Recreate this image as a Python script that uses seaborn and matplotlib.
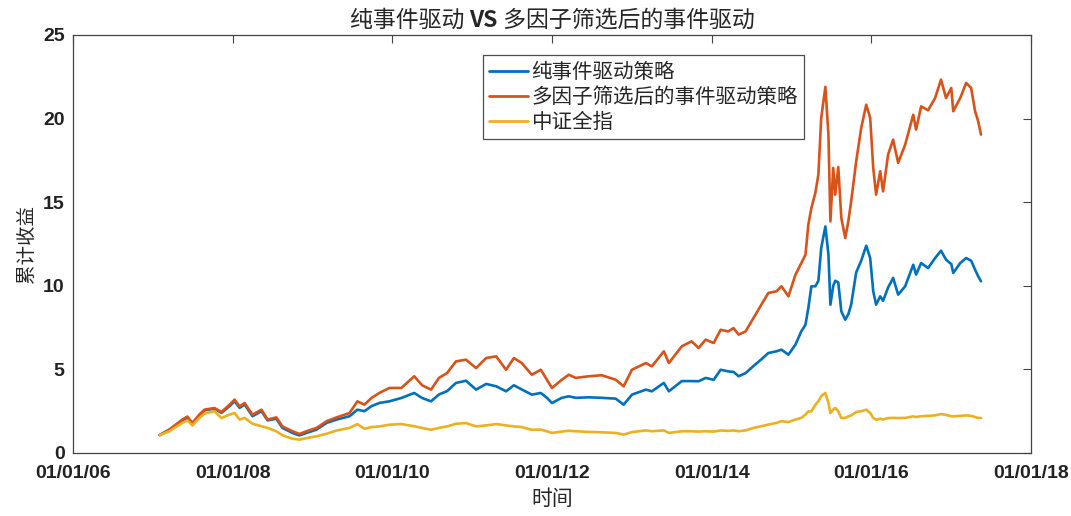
import pandas as pd
import numpy as np
import seaborn as sns
import matplotlib.pyplot as plt
import matplotlib.dates as mdates

# Values (cumulative return)
dates = [
    '2007-02-01', '2007-03-18', '2007-05-16', '2007-06-08', '2007-07-01', '2007-08-02', '2007-08-25',
    '2007-10-10', '2007-11-11', '2007-12-18', '2008-01-10', '2008-02-02', '2008-02-25', '2008-04-01',
    '2008-05-12', '2008-06-09', '2008-07-19', '2008-08-16', '2008-10-01', '2008-11-02', '2008-12-04',
    '2009-01-19', '2009-03-06', '2009-04-21', '2009-06-19', '2009-07-25', '2009-08-26', '2009-09-27',
    '2009-11-02', '2009-12-18', '2010-02-11', '2010-04-11', '2010-05-17', '2010-06-27', '2010-08-02',
    '2010-09-08', '2010-10-19', '2010-12-04', '2011-01-19', '2011-03-06', '2011-04-21', '2011-06-05',
    '2011-07-11', '2011-08-16', '2011-10-01', '2011-11-11', '2011-12-09', '2012-01-01', '2012-02-15',
    '2012-03-18', '2012-04-19', '2012-06-18', '2012-08-16', '2012-10-19', '2012-11-24', '2013-01-01',
    '2013-03-06', '2013-04-02', '2013-05-27', '2013-06-19', '2013-08-17', '2013-10-01', '2013-11-02',
    '2013-12-04', '2014-01-10', '2014-02-11', '2014-03-18', '2014-04-11', '2014-05-04', '2014-06-05',
    '2014-07-11', '2014-08-16', '2014-09-17', '2014-10-24', '2014-11-16', '2014-12-18', '2015-01-19',
    '2015-02-15', '2015-03-06', '2015-03-19', '2015-04-02', '2015-04-20', '2015-05-04', '2015-05-17',
    '2015-06-05', '2015-06-19', '2015-06-28', '2015-07-11', '2015-07-20', '2015-08-03', '2015-08-17',
    '2015-09-04', '2015-09-18', '2015-10-01', '2015-10-24', '2015-11-16', '2015-12-09', '2015-12-27',
    '2016-01-10', '2016-01-23', '2016-02-11', '2016-02-24', '2016-03-18', '2016-04-10', '2016-05-03',
    '2016-06-04', '2016-07-11', '2016-07-24', '2016-08-16', '2016-09-17', '2016-10-19', '2016-11-15',
    '2016-12-08', '2017-01-01', '2017-01-10', '2017-02-11', '2017-03-10', '2017-04-02', '2017-04-20',
    '2017-05-04', '2017-05-17',
]

pure_event = [
    1.07, 1.40, 1.95, 2.10, 1.75, 2.25, 2.55,
    2.65, 2.40, 2.80, 3.10, 2.70, 2.90, 2.20,
    2.50, 1.95, 2.05, 1.50, 1.20, 1.05, 1.20,
    1.40, 1.80, 2.00, 2.20, 2.59, 2.50, 2.80,
    2.99, 3.09, 3.29, 3.59, 3.29, 3.09, 3.50,
    3.70, 4.19, 4.32, 3.79, 4.13, 3.99, 3.69,
    4.05, 3.80, 3.49, 3.59, 3.30, 2.99, 3.30,
    3.39, 3.30, 3.33, 3.30, 3.25, 2.89, 3.49,
    3.79, 3.69, 4.19, 3.69, 4.30, 4.30, 4.29,
    4.49, 4.38, 4.98, 4.88, 4.85, 4.59, 4.78,
    5.20, 5.60, 5.98, 6.08, 6.18, 5.88, 6.48,
    7.28, 7.67, 8.67, 9.97, 9.97, 10.30, 12.26,
    13.55, 11.86, 8.87, 10.00, 10.30, 10.20, 8.47,
    7.97, 8.30, 8.87, 10.80, 11.50, 12.40, 11.66,
    9.67, 8.87, 9.37, 9.10, 9.90, 10.47, 9.47,
    9.97, 11.26, 10.67, 11.36, 11.06, 11.66, 12.10,
    11.56, 11.30, 10.77, 11.36, 11.66, 11.50, 10.96,
    10.57, 10.27,
]

multi_factor = [
    1.07, 1.40, 2.00, 2.18, 1.79, 2.30, 2.59,
    2.69, 2.45, 2.89, 3.19, 2.79, 2.99, 2.29,
    2.59, 2.00, 2.13, 1.59, 1.30, 1.14, 1.30,
    1.50, 1.90, 2.13, 2.39, 3.09, 2.89, 3.29,
    3.59, 3.89, 3.89, 4.59, 4.05, 3.79, 4.49,
    4.78, 5.48, 5.58, 5.08, 5.68, 5.78, 4.98,
    5.68, 5.38, 4.68, 4.98, 4.38, 3.89, 4.38,
    4.68, 4.49, 4.59, 4.65, 4.38, 3.99, 4.98,
    5.38, 5.18, 6.08, 5.38, 6.38, 6.68, 6.28,
    6.78, 6.58, 7.37, 7.27, 7.47, 7.08, 7.27,
    8.07, 8.87, 9.57, 9.67, 9.97, 9.37, 10.66,
    11.36, 11.86, 13.65, 14.65, 15.55, 16.65, 20.04,
    21.90, 19.04, 13.85, 17.05, 15.45, 17.10, 14.05,
    12.86, 13.85, 15.05, 17.44, 19.44, 20.83, 20.04,
    17.05, 15.45, 16.85, 15.65, 17.85, 18.74, 17.35,
    18.44, 20.23, 19.34, 20.73, 20.50, 21.23, 22.33,
    21.23, 21.83, 20.44, 21.23, 22.13, 21.83, 20.44,
    19.84, 19.04,
]

csi_all = [
    1.07, 1.30, 1.80, 1.95, 1.65, 2.10, 2.35,
    2.50, 2.09, 2.30, 2.39, 2.00, 2.10, 1.75,
    1.60, 1.50, 1.30, 1.06, 0.85, 0.80, 0.89,
    1.00, 1.15, 1.35, 1.50, 1.73, 1.45, 1.55,
    1.59, 1.69, 1.73, 1.60, 1.50, 1.39, 1.50,
    1.59, 1.75, 1.79, 1.59, 1.65, 1.73, 1.65,
    1.59, 1.55, 1.39, 1.40, 1.30, 1.20, 1.28,
    1.33, 1.30, 1.26, 1.24, 1.20, 1.10, 1.25,
    1.35, 1.30, 1.35, 1.20, 1.30, 1.30, 1.28,
    1.30, 1.28, 1.35, 1.32, 1.35, 1.30, 1.35,
    1.50, 1.60, 1.70, 1.80, 1.90, 1.85, 2.00,
    2.10, 2.30, 2.49, 2.49, 2.89, 3.09, 3.40,
    3.59, 3.00, 2.39, 2.60, 2.69, 2.50, 2.09,
    2.10, 2.19, 2.25, 2.45, 2.50, 2.59, 2.40,
    2.10, 1.99, 2.05, 2.00, 2.09, 2.10, 2.09,
    2.10, 2.19, 2.15, 2.20, 2.22, 2.25, 2.33,
    2.28, 2.20, 2.19, 2.22, 2.25, 2.22, 2.15,
    2.10, 2.09,
]

series_names = ['纯事件驱动策略', '多因子筛选后的事件驱动策略', '中证全指']
colors = ['#0072BD', '#D95319', '#EDB120']

df = pd.DataFrame({
    'date': pd.to_datetime(dates),
    series_names[0]: pure_event,
    series_names[1]: multi_factor,
    series_names[2]: csi_all,
})
long_df = df.melt(id_vars='date', var_name='series', value_name='value')

sns.set_style('white')
plt.rcParams['font.family'] = ['Liberation Sans', 'Noto Sans CJK SC', 'DejaVu Sans']
cjk = ['Noto Sans CJK SC', 'DejaVu Sans']
axis_grey = '#444444'

fig = plt.figure(figsize=(10.71, 5.16), dpi=100)
ax = fig.add_axes([0.0682, 0.1221, 0.8945, 0.8101])

sns.lineplot(data=long_df, x='date', y='value', hue='series', hue_order=series_names,
             palette=colors, linewidth=1.9, ax=ax, legend=True)

ax.set_xlim(pd.Timestamp('2006-01-01'), pd.Timestamp('2018-01-01'))
ax.set_ylim(0, 25)
ax.set_yticks([0, 5, 10, 15, 20, 25])
ax.xaxis.set_major_locator(mdates.YearLocator(2))
ax.xaxis.set_major_formatter(mdates.DateFormatter('%m/%d/%y'))

ax.tick_params(direction='in', length=6, width=0.8, top=True, right=True,
               labelsize=14, colors=axis_grey)
ax.tick_params(axis='x', pad=9)
ax.tick_params(axis='y', pad=6)
for lbl in ax.get_xticklabels() + ax.get_yticklabels():
    lbl.set_fontweight('bold')
    lbl.set_color('#222222')
for s in ax.spines.values():
    s.set_color(axis_grey)
    s.set_linewidth(0.9)

ax.set_xlabel('时间', family=cjk, fontsize=15, labelpad=4)
ax.set_ylabel('累计收益', family=cjk, fontsize=14, labelpad=4)

# title with a bold "VS" in the middle, chained pieces centred over the axes
ty = 1 - 27 / 516
t1 = fig.text(0.5, ty, '纯事件驱动 ', family=cjk, fontsize=16.5, va='baseline', ha='left')
t2 = fig.text(0.5, ty, 'VS', family=cjk, fontsize=16.5, fontweight='bold', va='baseline', ha='left')
t3 = fig.text(0.5, ty, ' 多因子筛选后的事件驱动', family=cjk, fontsize=16.5, va='baseline', ha='left')
fig.canvas.draw()
r = fig.canvas.get_renderer()
w1 = t1.get_window_extent(r).width
w2 = t2.get_window_extent(r).width
w3 = t3.get_window_extent(r).width
x0 = 552 - (w1 + w2 + w3) / 2
t1.set_x(x0 / 1071)
t2.set_x((x0 + w1) / 1071)
t3.set_x((x0 + w1 + w2) / 1071)

leg = ax.legend(loc='upper left', bbox_to_anchor=(0.428, 0.953), prop={'family': cjk, 'size': 14.8},
                frameon=True, fancybox=False, edgecolor='#222222', handlelength=1.9,
                handletextpad=0.15, borderpad=0.3, labelspacing=0.15, borderaxespad=0)
leg.get_frame().set_linewidth(0.9)
for line in leg.get_lines():
    line.set_linewidth(2.0)

plt.savefig('out.png', dpi=100)
